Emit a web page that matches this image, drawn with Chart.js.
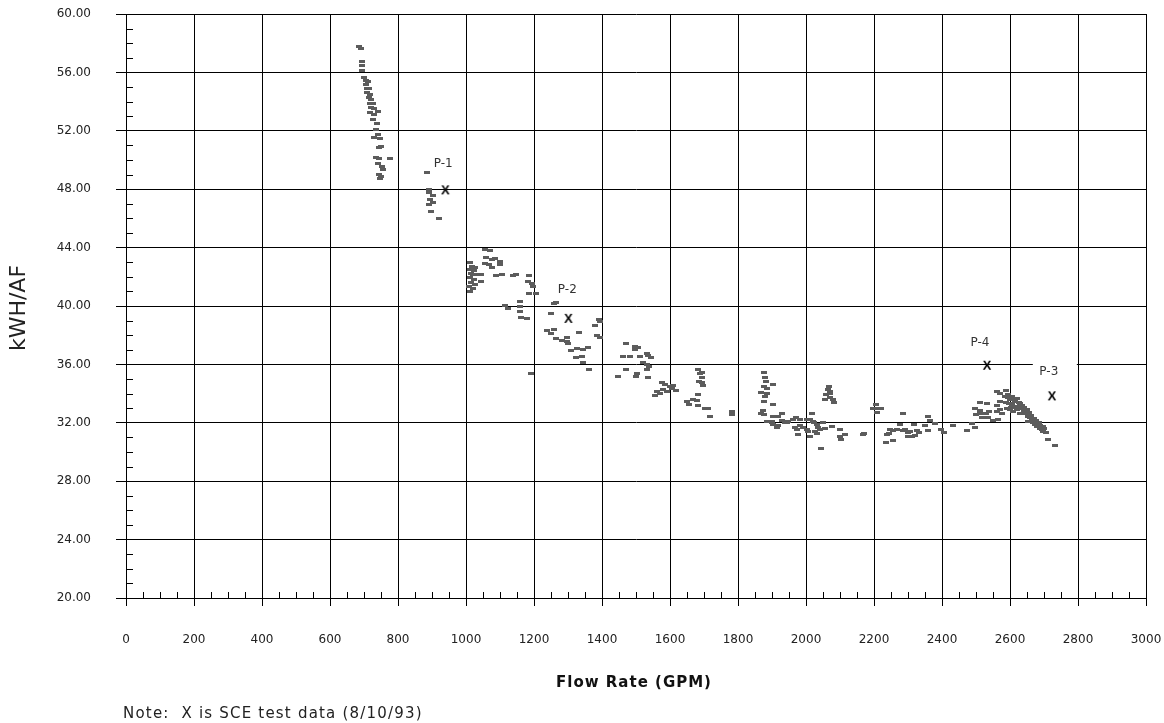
<!DOCTYPE html>
<html>
<head>
<meta charset="utf-8">
<script src="https://cdn.jsdelivr.net/npm/chart.js@4.4.1/dist/chart.umd.min.js"></script>
<style>
  html, body { margin: 0; padding: 0; background: #fff; }
  #wrap { width: 1164px; height: 723px; }
</style>
</head>
<body>
<div id="wrap"><canvas id="c" width="1164" height="723"></canvas></div>
<script>
// ---------- DATA ----------
const flowGpm = [
  685,692,695,693,695,701,705,712,707,709,715,709,717,715,721,717,725,722,728,719,728,740,726,738,736,741,728,748,751,744,736,744,775,741,753,756,744,750,748,
  884,890,890,903,893,903,890,898,920,
  1055,1070,1060,1075,1085,1055,1067,1099,1099,1077,1011,1018,1026,1011,1024,1014,1021,1034,1011,1023,1014,1026,1008,1020,1043,1045,1011,1087,1107,1138,1148,1185,1183,1193,1197,1185,1207,1114,1124,1160,1160,1160,1163,1178,1192,
  1258,1264,1251,1237,1251,1258,1266,1281,1296,1297,1300,1310,1325,1343,1359,1333,1323,1340,1344,1362,1379,1391,1393,1384,1393,
  1472,1497,1506,1497,1462,1482,1531,1536,1543,1511,1521,1531,1539,1531,1472,1502,1500,1447,1536,1575,1585,1600,1609,1580,1590,1605,1619,1570,1556,1562,
  1683,1688,1693,1693,1686,1693,1696,1683,1649,1656,1668,1678,1683,1702,1712,1719,1781,1781,
  1876,1879,1882,1876,1884,1902,1869,1884,1879,1876,1902,1874,1869,1876,1884,1899,1904,1918,1928,1904,1918,1914,1928,1938,1948,1962,1972,1982,1967,1974,1982,2002,2012,2021,1992,2002,2006,1977,2012,2031,2036,2051,2026,2033,2041,2056,2075,2017,2043,2100,2100,2102,2115,2171,2168,1899,1943,2023,
  2068,2065,2070,2060,2072,2056,2070,2078,2082,
  2206,2198,2213,2220,2208,2284,2276,2247,2257,2268,2284,2237,2245,2301,2301,2257,2235,2291,2318,2350,2379,2360,2365,2306,2326,2311,2321,2333,2360,2396,2406,2433,2473,2487,2497,
  2497,2512,2512,2533,2512,2529,2539,2500,2561,2571,2561,2576,2536,2551,2566,2561,2571,2588,2595,2585,2588,2571,2590,2600,2610,2615,2605,2615,2600,2610,2620,2625,2630,2635,2640,2644,2649,2630,2654,2659,2664,2669,2654,2674,2679,2688,2693,2698,2698,2684,2713,2733,2518,
  2606,2621,2627,2636,2641,2650,2656,2662,2671,2677,2683,2688,2694,2700,2706,2594,2597,2603
];
const kwhPerAf = [
  57.78,57.62,56.75,56.48,56.12,55.66,55.43,55.38,55.16,54.93,54.88,54.59,54.47,54.25,54.13,53.90,53.90,53.60,53.51,53.22,53.15,53.33,52.76,52.53,52.08,51.78,51.55,51.46,50.95,50.89,50.18,50.07,50.07,49.79,49.56,49.34,49.04,48.88,48.72,
  49.11,48.01,47.74,47.55,47.28,47.10,46.94,46.44,45.96,
  43.86,43.81,43.29,43.17,43.22,42.90,42.83,43.06,42.81,42.67,42.99,42.71,42.67,42.49,42.44,42.26,42.14,42.19,41.94,41.80,41.60,41.46,41.32,41.18,42.14,41.69,41.00,42.12,42.19,42.12,42.19,42.12,41.69,41.53,41.34,40.89,40.89,40.04,39.86,40.32,39.97,39.59,39.22,39.15,35.41,
  40.16,40.21,39.52,38.31,38.15,38.42,37.74,37.62,37.85,37.58,37.42,36.96,37.08,37.01,37.16,38.19,36.44,36.51,36.10,35.64,38.65,39.06,38.95,37.97,37.81,
  37.42,37.23,37.19,37.00,36.51,36.55,36.78,36.60,36.46,36.51,36.10,35.98,35.86,35.68,35.64,35.41,35.18,35.14,35.07,34.73,34.61,34.49,34.54,34.27,34.15,34.32,34.22,34.04,33.87,34.14,
  35.68,35.41,35.45,35.07,34.84,34.73,34.54,33.92,33.47,33.24,33.63,33.51,33.17,32.95,32.95,32.40,32.78,32.55,
  35.45,35.07,34.84,34.49,34.38,34.61,34.08,34.04,33.77,33.47,33.24,32.85,32.67,32.55,32.10,32.10,32.40,32.40,32.62,31.87,31.80,31.71,32.16,32.03,32.10,32.21,32.33,32.26,31.71,31.53,31.80,32.21,32.26,32.10,31.71,31.53,31.41,31.18,31.03,31.87,31.71,31.99,31.41,31.25,31.53,31.58,31.75,32.67,30.21,31.53,31.03,30.89,31.18,31.30,31.18,32.03,31.99,32.03,
  34.49,34.27,34.15,33.92,33.99,33.63,33.70,33.63,33.40,
  33.24,33.01,32.95,33.01,32.71,32.62,31.87,31.53,31.49,31.53,31.49,31.23,31.30,31.34,31.07,30.77,30.62,31.53,31.87,31.80,31.94,32.40,32.16,31.41,31.49,31.07,31.12,31.34,31.49,31.53,31.34,31.80,31.49,31.94,31.71,
  33.01,32.85,33.36,33.29,32.62,32.67,32.78,32.55,33.17,32.90,32.78,32.67,32.33,32.16,32.21,34.11,33.99,34.22,33.92,33.77,33.40,33.47,32.95,33.58,33.63,33.47,33.24,33.12,32.90,32.78,32.90,33.12,33.31,32.95,32.78,32.62,32.71,32.67,32.44,32.33,32.16,32.03,32.10,31.87,31.75,31.64,31.53,31.41,31.75,31.99,30.84,30.43,32.33,
  33.79,33.65,33.38,33.17,33.03,32.90,32.69,32.49,32.28,32.14,31.87,31.80,31.66,31.60,31.32,33.72,33.31,33.03
];

// SCE test points
const testLabels = ['P-1', 'P-2', 'P-4', 'P-3'];
const testFlow   = [939, 1301, 2532, 2723];
const testKwh    = [47.92, 39.12, 35.91, 33.81];

// axis ranges / ticks
const xMin = 0, xMax = 3000, xMajor = 200, xMinor = 50;
const yMin = 20, yMax = 60, yMajor = 4, yMinor = 1;

const xTitle = 'Flow Rate (GPM)';
const yTitle = 'kWH/AF';
const noteText = 'Note:  X is SCE test data (8/10/93)';

// ---------- STYLE ----------
const FONT = '"DejaVu Sans", Verdana, sans-serif';
const labelOffsets = [[-2, -26], [-1, -29], [-7, -23], [-3, -24]]; // px offsets of P-labels from markers
const labelBox = [false, false, false, true]; // P-3 label sits on a white box

// dash marker for measured points
const dash = document.createElement('canvas');
dash.width = 6; dash.height = 3;
{ const g = dash.getContext('2d'); g.fillStyle = '#5c5c5c'; g.fillRect(0, 0, 6, 3); }

// X glyph for test points
const xGlyph = document.createElement('canvas');
xGlyph.width = 14; xGlyph.height = 14;
{
  const g = xGlyph.getContext('2d');
  g.fillStyle = '#000';
  g.font = 'bold 13px "Liberation Sans", Arial, sans-serif';
  g.textAlign = 'center'; g.textBaseline = 'middle';
  g.fillText('X', 7, 7.5);
}

const measured = flowGpm.map((v, i) => ({ x: v, y: kwhPerAf[i] }));
const tests = testFlow.map((v, i) => ({ x: v, y: testKwh[i] }));

const overlay = {
  id: 'overlay',
  afterDatasetsDraw(chart) {
    const { ctx, chartArea: a, scales: { x, y } } = chart;
    ctx.save();
    // minor ticks
    ctx.strokeStyle = '#000';
    ctx.lineWidth = 1;
    ctx.beginPath();
    for (let v = yMin + yMinor; v < yMax; v += yMinor) {
      if (v % yMajor === 0) continue;
      const py = Math.round(y.getPixelForValue(v)) + 0.5;
      ctx.moveTo(a.left, py); ctx.lineTo(a.left + 7, py);
    }
    for (let v = xMin + xMinor; v < xMax; v += xMinor) {
      if (v % xMajor === 0) continue;
      const px = Math.round(x.getPixelForValue(v)) + 0.5;
      ctx.moveTo(px, a.bottom); ctx.lineTo(px, a.bottom - 6);
    }
    ctx.stroke();

    // P labels
    ctx.font = '12px ' + FONT;
    ctx.textAlign = 'center';
    ctx.textBaseline = 'middle';
    testLabels.forEach((t, i) => {
      const px = x.getPixelForValue(testFlow[i]) + labelOffsets[i][0];
      const py = y.getPixelForValue(testKwh[i]) + labelOffsets[i][1];
      if (labelBox[i]) {
        ctx.fillStyle = '#fff';
        ctx.fillRect(px - 16, py - 11, 44, 20);
      }
      ctx.fillStyle = '#333';
      ctx.fillText(t, px, py);
    });
    ctx.restore();
  },
  afterDraw(chart) {
    const { ctx, chartArea: a } = chart;
    ctx.save();
    ctx.textBaseline = 'middle';
    // x title
    ctx.fillStyle = '#111';
    ctx.font = 'bold 15px ' + FONT;
    try { ctx.letterSpacing = '1px'; } catch (e) {}
    ctx.textAlign = 'center';
    ctx.fillText(xTitle, (a.left + a.right) / 2 - 2, 683);
    // note
    ctx.fillStyle = '#222';
    ctx.font = '15px ' + FONT;
    try { ctx.letterSpacing = '1.2px'; } catch (e) {}
    ctx.textAlign = 'left';
    ctx.fillText(noteText, 123, 714);
    // y title
    try { ctx.letterSpacing = '0px'; } catch (e) {}
    ctx.font = '22px ' + FONT;
    ctx.fillStyle = '#222';
    ctx.translate(19, (a.top + a.bottom) / 2 + 2);
    ctx.rotate(-Math.PI / 2);
    ctx.textAlign = 'center';
    ctx.fillText(yTitle, 0, 0);
    ctx.restore();
  }
};

new Chart(document.getElementById('c'), {
  type: 'scatter',
  data: {
    datasets: [
      { data: measured, pointStyle: dash, pointRadius: 3, pointHoverRadius: 3, showLine: false },
      { data: tests, pointStyle: xGlyph, pointRadius: 6, pointHoverRadius: 6, showLine: false }
    ]
  },
  options: {
    responsive: false,
    animation: false,
    devicePixelRatio: 1,
    layout: { padding: { left: 0, right: 18, top: 14, bottom: 0 } },
    plugins: { legend: { display: false }, tooltip: { enabled: false } },
    events: [],
    scales: {
      x: {
        type: 'linear', min: xMin, max: xMax,
        afterFit(s) { s.height = 125; s.paddingLeft = 0; s.paddingRight = 0; },
        ticks: {
          stepSize: xMajor, padding: 27, color: '#222',
          font: { family: FONT, size: 12 },
          callback: v => String(v), maxRotation: 0, autoSkip: false
        },
        grid: { color: '#000', lineWidth: 1, tickLength: 8, tickColor: '#000' },
        border: { color: '#000', width: 1 }
      },
      y: {
        type: 'linear', min: yMin, max: yMax,
        afterFit(s) { s.width = 126; s.paddingTop = 0; s.paddingBottom = 0; },
        ticks: {
          stepSize: yMajor, padding: 25, color: '#222',
          font: { family: FONT, size: 12 },
          callback: v => Number(v).toFixed(2)
        },
        grid: { color: '#000', lineWidth: 1, tickLength: 10, tickColor: '#000' },
        border: { color: '#000', width: 1 }
      }
    }
  },
  plugins: [overlay]
});
</script>
</body>
</html>
